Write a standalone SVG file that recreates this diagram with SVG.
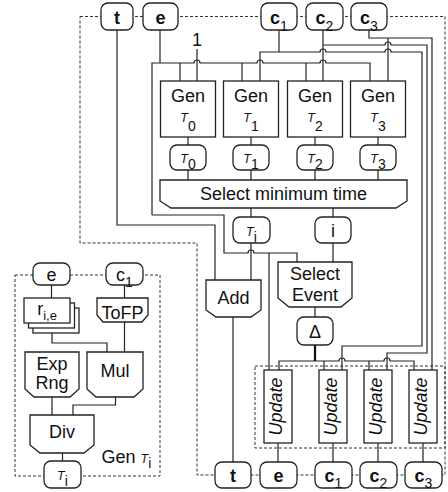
<svg xmlns="http://www.w3.org/2000/svg" width="448" height="492" viewBox="0 0 448 492">
  <defs>
    <style>
      .box { fill: #fff; stroke: #222; stroke-width: 1.3; }
      .w { fill: none; stroke: #222; stroke-width: 1.2; }
      .thick { fill: none; stroke: #111; stroke-width: 2.2; }
      .dash { fill: none; stroke: #333; stroke-width: 1; stroke-dasharray: 3 2; }
      text { font-family: "Liberation Sans", Arial, sans-serif; fill: #111; text-anchor: middle; }
      .lbl { font-size: 18px; }
      .bold { font-size: 18px; font-weight: bold; }
      .it { font-style: italic; }
      .sub { font-size: 14px; font-weight: normal; }
    </style>
  </defs>

  <!-- dashed boundaries -->
  <g id="boundaries">
    <path class="dash" d="M80 16.5 H445 V475 H197 V243 H80 Z"/>
    <rect class="dash" x="15" y="275" width="145" height="201"/>
    <rect class="dash" x="255" y="366" width="190" height="82"/>
  </g>

  <!-- connectors -->
  <g id="connectors">
    <!-- t to Add -->
    <path class="w" d="M117 30 V225 H215 V280"/>
    <!-- e bus to generators, select event and update -->
    <path class="w" d="M160 30 V63"/>
    <path class="w" d="M152 215 V63 H194 a3 3 0 0 1 6 0 H257 a3 3 0 0 1 6 0 H320 a3 3 0 0 1 6 0 H370 V81"/>
    <path class="w" d="M180 63 V81 M242 63 V81 M306 63 V81"/>
    <path class="w" d="M152 215 H224 V253 H248 a3 3 0 0 1 6 0 H297 V262"/>
    <path class="w" d="M269 253 V370"/>
    <!-- constant 1 -->
    <path class="w" d="M197 49 V81"/>
    <!-- c1 -->
    <path class="w" d="M279 30 V52"/>
    <path class="w" d="M260 81 V52 H320 a3 3 0 0 1 6 0 H385 a3 3 0 0 1 6 0 H422 V346 H342 V370"/>
    <!-- c2 -->
    <path class="w" d="M323 30 V81"/>
    <path class="w" d="M323 45 H385 a3 3 0 0 1 6 0 H427 V353 H387 V370"/>
    <!-- c3 -->
    <path class="w" d="M369 30 V38 H432 V370"/>
    <path class="w" d="M388 38 V81"/>
    <!-- generators to times -->
    <path class="w" d="M188 137 V145 M251 137 V145 M315 137 V145 M378 137 V145"/>
    <path class="w" d="M188 170 V180 M251 170 V180 M315 170 V180 M378 170 V180"/>
    <path class="w" d="M251 208 V217 M333 208 V217"/>
    <path class="w" d="M251 243 V280"/>
    <path class="w" d="M333 243 V262"/>
    <path class="w" d="M315 307 V317"/>
    <!-- delta distribution -->
    <path class="thick" d="M315 345 V361"/>
    <path class="w" d="M279 370 V361 H339 a3 3 0 0 1 6 0 H384 a3 3 0 0 1 6 0 H414 V370"/>
    <path class="w" d="M324 361 V370 M369 361 V370"/>
    <!-- outputs -->
    <path class="w" d="M233 317 V462"/>
    <path class="w" d="M278 443 V462 M333 443 V462 M378 443 V462 M423 443 V462"/>
    <!-- inset wiring -->
    <path class="w" d="M51.5 285 V298 M124.5 285 V298 M124.5 322 V352"/>
    <path class="w" d="M52 333 V343 H107 V352"/>
    <path class="w" d="M52 397 V415"/>
    <path class="w" d="M115.5 397 V405 H73 V415"/>
    <path class="w" d="M62.5 453 V461"/>
  </g>

  <!-- top row -->
  <g id="t-in"><rect class="box" x="101" y="3" width="32" height="27" rx="7"/><text class="bold" x="117" y="24">t</text></g>
  <g id="e-in"><rect class="box" x="143" y="3" width="35" height="27" rx="7"/><text class="bold" x="160.5" y="24">e</text></g>
  <g id="c1-in"><rect class="box" x="261" y="3" width="36" height="27" rx="7"/><text class="bold" x="279" y="24">c<tspan class="sub" dy="7">1</tspan></text></g>
  <g id="c2-in"><rect class="box" x="306" y="3" width="37" height="27" rx="7"/><text class="bold" x="324.5" y="24">c<tspan class="sub" dy="7">2</tspan></text></g>
  <g id="c3-in"><rect class="box" x="351" y="3" width="36" height="27" rx="7"/><text class="bold" x="369" y="24">c<tspan class="sub" dy="7">3</tspan></text></g>
  <g id="one"><text class="lbl" x="197" y="46">1</text></g>

  <!-- generators -->
  <g id="gen0"><rect class="box" x="160.5" y="81" width="55" height="56"/><text class="lbl" x="188" y="101.5">Gen</text><text x="188" y="121.5"><tspan class="it" font-size="12.5">T</tspan><tspan font-size="14" dy="9">0</tspan></text></g>
  <g id="gen1"><rect class="box" x="223.5" y="81" width="55" height="56"/><text class="lbl" x="251" y="101.5">Gen</text><text x="251" y="121.5"><tspan class="it" font-size="12.5">T</tspan><tspan font-size="14" dy="9">1</tspan></text></g>
  <g id="gen2"><rect class="box" x="287.5" y="81" width="55" height="56"/><text class="lbl" x="315" y="101.5">Gen</text><text x="315" y="121.5"><tspan class="it" font-size="12.5">T</tspan><tspan font-size="14" dy="9">2</tspan></text></g>
  <g id="gen3"><rect class="box" x="350.5" y="81" width="55" height="56"/><text class="lbl" x="378" y="101.5">Gen</text><text x="378" y="121.5"><tspan class="it" font-size="12.5">T</tspan><tspan font-size="14" dy="9">3</tspan></text></g>

  <!-- candidate times -->
  <g id="t0"><rect class="box" x="170" y="145" width="36" height="25" rx="7"/><text x="188" y="163"><tspan class="it" font-size="12.5">T</tspan><tspan font-size="14" dy="6">0</tspan></text></g>
  <g id="t1"><rect class="box" x="233" y="145" width="36" height="25" rx="7"/><text x="251" y="163"><tspan class="it" font-size="12.5">T</tspan><tspan font-size="14" dy="6">1</tspan></text></g>
  <g id="t2"><rect class="box" x="297" y="145" width="36" height="25" rx="7"/><text x="315" y="163"><tspan class="it" font-size="12.5">T</tspan><tspan font-size="14" dy="6">2</tspan></text></g>
  <g id="t3"><rect class="box" x="360" y="145" width="36" height="25" rx="7"/><text x="378" y="163"><tspan class="it" font-size="12.5">T</tspan><tspan font-size="14" dy="6">3</tspan></text></g>

  <g id="select-min"><path class="box" d="M160 180 H407 V201 L396 208 H171 L160 201 Z"/><text class="lbl" x="283.5" y="200">Select minimum time</text></g>

  <g id="ti"><rect class="box" x="233" y="217" width="37" height="26" rx="7"/><text x="251.5" y="236"><tspan class="it" font-size="12.5">T</tspan><tspan font-size="14" dy="6">i</tspan></text></g>
  <g id="i"><rect class="box" x="315" y="217" width="36" height="26" rx="7"/><text class="lbl" x="333" y="236.5">i</text></g>

  <g id="add"><path class="box" d="M206 280 H261 V310 L251 317 H216 L206 310 Z"/><text class="lbl" x="233.5" y="303.5">Add</text></g>
  <g id="select-event"><path class="box" d="M278 262 H352 V298 L341 307 H289 L278 298 Z"/><text class="lbl" x="315" y="280">Select</text><text class="lbl" x="315" y="301">Event</text></g>
  <g id="delta"><rect class="box" x="297" y="317" width="36" height="28" rx="7"/><text class="lbl" x="315" y="338">Δ</text></g>

  <!-- update units -->
  <g id="update-e"><rect class="box" x="264" y="370" width="28" height="73"/><text class="lbl it" transform="translate(282 406.5) rotate(-90)">Update</text></g>
  <g id="update-c1"><rect class="box" x="319" y="370" width="28" height="73"/><text class="lbl it" transform="translate(337 406.5) rotate(-90)">Update</text></g>
  <g id="update-c2"><rect class="box" x="364" y="370" width="28" height="73"/><text class="lbl it" transform="translate(382 406.5) rotate(-90)">Update</text></g>
  <g id="update-c3"><rect class="box" x="409" y="370" width="28" height="73"/><text class="lbl it" transform="translate(427 406.5) rotate(-90)">Update</text></g>

  <!-- bottom row -->
  <g id="t-out"><rect class="box" x="215" y="462" width="36" height="26" rx="7"/><text class="bold" x="233" y="482">t</text></g>
  <g id="e-out"><rect class="box" x="260" y="462" width="37" height="26" rx="7"/><text class="bold" x="278.5" y="482">e</text></g>
  <g id="c1-out"><rect class="box" x="315" y="462" width="37" height="26" rx="7"/><text class="bold" x="333.5" y="482">c<tspan class="sub" dy="6">1</tspan></text></g>
  <g id="c2-out"><rect class="box" x="360" y="462" width="37" height="26" rx="7"/><text class="bold" x="378.5" y="482">c<tspan class="sub" dy="6">2</tspan></text></g>
  <g id="c3-out"><rect class="box" x="405" y="462" width="37" height="26" rx="7"/><text class="bold" x="423.5" y="482">c<tspan class="sub" dy="6">3</tspan></text></g>

  <!-- generator detail -->
  <g id="gi-e"><rect class="box" x="33" y="263" width="37" height="22" rx="7"/><text class="lbl" x="51.5" y="281">e</text></g>
  <g id="gi-c1"><rect class="box" x="106" y="263" width="37" height="22" rx="7"/><text class="lbl" x="124.5" y="281">c<tspan font-size="14" dy="6">1</tspan></text></g>
  <g id="rate"><rect class="box" x="33" y="308" width="46" height="25"/><rect class="box" x="28.5" y="303" width="46" height="25"/><rect class="box" x="24" y="298" width="46" height="25"/><text class="lbl" x="47" y="315">r<tspan font-size="13" dy="5">i,e</tspan></text></g>
  <g id="tofp"><path class="box" d="M97 298 H148 V315 L142 322 H103 L97 315 Z"/><text class="lbl" x="122.5" y="318.5">ToFP</text></g>
  <g id="exprng"><path class="box" d="M25 352 H79 V389 L70 397 H34 L25 389 Z"/><text class="lbl" x="52" y="370">Exp</text><text class="lbl" x="52" y="388.5">Rng</text></g>
  <g id="mul"><path class="box" d="M87 352 H143 V389 L134 397 H96 L87 389 Z"/><text class="lbl" x="115" y="377">Mul</text></g>
  <g id="div"><path class="box" d="M30 415 H94 V445 L84 453 H40 L30 445 Z"/><text class="lbl" x="62" y="438">Div</text></g>
  <g id="gi-ti"><rect class="box" x="44" y="461" width="37" height="27" rx="7"/><text x="62.5" y="480"><tspan class="it" font-size="12.5">T</tspan><tspan font-size="14" dy="6">i</tspan></text></g>
  <g id="gi-label"><text x="101.5" y="462.5" style="text-anchor:start"><tspan font-size="18">Gen </tspan><tspan class="it" font-size="12.5">T</tspan><tspan font-size="14" dy="5">i</tspan></text></g>
</svg>
